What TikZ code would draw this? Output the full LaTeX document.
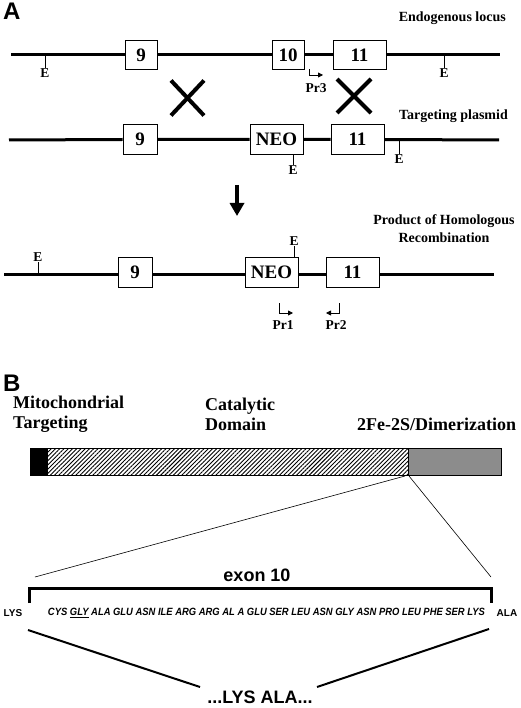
\documentclass[tikz,border=0pt]{standalone}
\usepackage{fontspec}
\usepackage{graphicx}
\setmainfont{Liberation Serif}
\setsansfont{Liberation Sans}
\usetikzlibrary{arrows.meta,patterns,patterns.meta}
\begin{document}
\begin{tikzpicture}[x=1pt,y=-1pt,
  dna/.style={line width=3pt},
  exon/.style={draw,line width=0.6pt,fill=white,minimum height=29pt,inner sep=0pt,font=\fontsize{19}{19}\selectfont\bfseries},
  tick/.style={line width=0.8pt},
  elab/.style={font=\fontsize{13.5}{13.5}\selectfont\bfseries,inner sep=0pt},
  ttl/.style={font=\fontsize{14}{18}\selectfont\bfseries,inner sep=0pt,align=center},
  crossline/.style={line width=4pt},
  primer/.style={line width=0.8pt,-{Triangle[length=5pt,width=5pt]}},
  panel/.style={font=\sffamily\fontsize{24}{24}\selectfont\bfseries,inner sep=0pt,anchor=west},
  domlabel/.style={font=\fontsize{18}{20}\selectfont\bfseries,inner sep=0pt,anchor=west,align=left},
  thinline/.style={line width=0.6pt},
  sanslabel/.style={font=\sffamily\bfseries\fontsize{18}{18}\selectfont,inner sep=0pt},
  ]
\useasboundingbox (0,0) rectangle (520,708);

% ---------- Panel A ----------
\node[panel] (pA) at (3,11) {A};
\node[ttl,anchor=east] (t1) at (506,18) {Endogenous locus};

% row 1
\coordinate (r1s) at (11,55);
\coordinate (r1e) at (500,55);
\node[exon,minimum width=32pt] (a9) at (141,55) {9};
\node[exon,minimum width=32pt] (a10) at (288,55) {10};
\node[exon,minimum width=53pt] (a11) at (359.5,55) {11};
\draw[dna] (r1s) -- (a9.west) (a9.east) -- (a10.west) (a10.east) -- (a11.west) (a11.east) -- (r1e);
\coordinate (e1a) at (45,55);
\coordinate (e1b) at (444,55);
\node[elab] (E1) at (45,73) {E};
\node[elab] (E2) at (444,73) {E};
\draw[tick] (e1a) -- (E1.north);
\draw[tick] (e1b) -- (E2.north);
\coordinate (p3s) at (309,69.5);
\coordinate (p3e) at (323,75);
\draw[primer] (p3s) |- (p3e);
\node[elab] (pr3) at (316,88) {Pr3};

% crosses
\draw[crossline] (171,80.5) -- (204,115.5) (171,115.5) -- (204,80.5);
\draw[crossline] (337,79) -- (371,113) (337,113) -- (371,79);

\node[ttl,anchor=east] (t2) at (508,116) {Targeting plasmid};

% row 2
\coordinate (r2s) at (9,140);
\coordinate (r2e) at (499,140);
\node[exon,minimum width=34pt,minimum height=30pt] (b9) at (140,139.5) {9};
\node[exon,minimum width=53pt,minimum height=30pt] (bneo) at (276.5,139.5) {NEO};
\node[exon,minimum width=53pt,minimum height=30pt] (b11) at (357.5,139.5) {11};
\draw[dna] (r2s) -- (b9.west) (b9.east) -- (bneo.west) (bneo.east) -- (b11.west) (b11.east) -- (r2e);
\node[elab] (E3) at (293,170) {E};
\node[elab] (E4) at (399,159) {E};
\draw[tick] (E3.north |- bneo.south) -- (E3.north);
\draw[tick] (399,140) -- (E4.north);

% arrow
\coordinate (dar1) at (237,185);
\coordinate (dar2) at (237,216);
\draw[line width=4pt,-{Triangle[length=13pt,width=14pt]}] (dar1) -- (dar2);

\node[ttl] (t3) at (444,229) {Product of Homologous\\Recombination};

% row 3
\coordinate (r3s) at (4,274);
\coordinate (r3e) at (494,274);
\node[exon,minimum width=34pt,minimum height=30pt] (c9) at (135,272.5) {9};
\node[exon,minimum width=53pt,minimum height=30pt] (cneo) at (271.5,272.5) {NEO};
\node[exon,minimum width=53pt,minimum height=30pt] (c11) at (352.5,272.5) {11};
\draw[dna] (r3s) -- (c9.west |- r3s) (c9.east |- r3s) -- (cneo.west |- r3s) (cneo.east |- r3s) -- (c11.west |- r3s) (c11.east |- r3s) -- (r3e);
\node[elab] (E5) at (38,257) {E};
\node[elab] (E6) at (294,241) {E};
\draw[tick] (38,274) -- (E5.south);
\draw[tick] (E6.south |- cneo.north) -- (E6.south);
\coordinate (p1s) at (279,303);
\coordinate (p1e) at (293,313);
\draw[primer] (p1s) |- (p1e);
\coordinate (p2s) at (339,303);
\coordinate (p2e) at (326,313);
\draw[primer] (p2s) |- (p2e);
\node[elab] (pr1) at (283,325) {Pr1};
\node[elab] (pr2) at (336,325) {Pr2};

% ---------- Panel B ----------
\node[panel] (pB) at (3,383) {B};
\node[domlabel] (d1) at (13,414) {Mitochondrial\\Targeting};
\node[domlabel] (d2) at (205,414) {Catalytic\\Domain};
\node[domlabel] (d3) at (357,424) {2Fe-2S/Dimerization};

\fill[black] (30,448) rectangle (48,475);
\fill[pattern={Lines[angle=45,distance=3pt,line width=0.9pt]}] (48,448) rectangle (408,475);
\fill[black!45] (408,448) rectangle (501,475);
\draw[thinline] (30,448) rectangle (501,475);
\draw[thinline] (408,448) -- (408,475);
\coordinate (z1) at (405,476);
\coordinate (z2) at (409,476);
\coordinate (z3) at (35,577);
\coordinate (z4) at (491,577);
\draw[thinline] (z1) -- (z3);
\draw[thinline] (z2) -- (z4);

\node[sanslabel] (exon) at (257,575) {exon 10};
\coordinate (k1) at (29,603);
\coordinate (k2) at (29,588);
\coordinate (k3) at (491,588);
\coordinate (k4) at (491,603);
\draw[line width=3pt] (k1) -- (k2) -- (k3) -- (k4);

\node[font=\sffamily\bfseries\fontsize{10}{10}\selectfont,inner sep=0pt] (lys) at (13,613) {LYS};
\node[inner sep=0pt] (seq) at (266.5,613) {\resizebox{437pt}{\height}{\sffamily\bfseries\itshape\fontsize{10.5}{10.5}\selectfont CYS \underline{GLY} ALA GLU ASN ILE ARG ARG AL A GLU SER LEU ASN GLY ASN PRO LEU PHE SER LYS}};
\node[font=\sffamily\bfseries\fontsize{10}{10}\selectfont,inner sep=0pt] (ala) at (507,613) {ALA};

\node[sanslabel] (lysala) at (260,697) {...LYS ALA...};
\coordinate (m1) at (28,630);
\coordinate (m2) at (200,687);
\coordinate (m3) at (489,629);
\coordinate (m4) at (317,687);
\draw[line width=2pt] (m1) -- (m2);
\draw[line width=2pt] (m3) -- (m4);
\end{tikzpicture}
\end{document}
